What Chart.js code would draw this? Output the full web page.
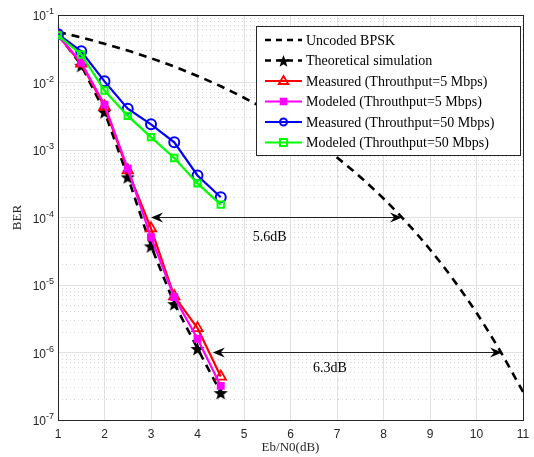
<!DOCTYPE html>
<html><head><meta charset="utf-8">
<script src="https://cdn.jsdelivr.net/npm/chart.js@4/dist/chart.umd.min.js"></script>
<style>html,body{margin:0;padding:0;background:#fff}#wrap{width:534px;height:457px;position:relative}</style>
</head><body><div id="wrap"><canvas id="c" width="534" height="457"></canvas></div>
<script>
// ---------- data ----------
const ebn0 = [1, 1.5, 2, 2.5, 3, 3.5, 4, 4.5];
const ebn0Uncoded = [1, 1.5, 2, 2.5, 3, 3.5, 4, 4.5, 5, 5.5, 6, 6.5, 7, 7.5, 8, 8.5, 9, 9.5, 10, 10.5, 11];
const uncodedBPSK = [0.0563, 0.0464, 0.0375, 0.0297, 0.0229, 0.0172, 0.0125, 0.00879, 0.00595, 0.00386, 0.00239, 0.0014, 7.73e-4, 3.99e-4, 1.91e-4, 8.4e-5, 3.36e-5, 1.21e-5, 3.87e-6, 1.08e-6, 2.61e-7];
const theorySim = [0.052, 0.018, 0.0037, 4.0e-4, 3.8e-5, 5.3e-6, 1.15e-6, 2.55e-7];
const measured5 = [0.05, 0.019, 0.0044, 5.0e-4, 6.9e-5, 6.8e-6, 2.3e-6, 4.4e-7];
const modeled5 = [0.05, 0.0197, 0.0047, 5.3e-4, 5.1e-5, 6.6e-6, 1.6e-6, 3.2e-7];
const measured50 = [0.052, 0.029, 0.0104, 0.0041, 0.0024, 0.0013, 4.2e-4, 2.0e-4];
const modeled50 = [0.05, 0.026, 0.0076, 0.0032, 0.00155, 7.6e-4, 3.2e-4, 1.55e-4];
const seriesLabels = ['Uncoded BPSK', 'Theoretical simulation', 'Measured (Throuthput=5 Mbps)', 'Modeled (Throuthput=5 Mbps)', 'Measured (Throuthput=50 Mbps)', 'Modeled (Throuthput=50 Mbps)'];
const xTicks = [1, 2, 3, 4, 5, 6, 7, 8, 9, 10, 11];
const yMajorTicks = [1e-7, 1e-6, 1e-5, 1e-4, 1e-3, 1e-2, 1e-1];
const yTickExponents = ['-7', '-6', '-5', '-4', '-3', '-2', '-1'];
const yMinorMantissas = [2, 3, 4, 5, 6, 7, 8, 9];
// annotation arrows (gap between curves)
const arrowFrom = [3, 4.33];
const arrowTo = [8.4, 10.55];
const arrowBER = [1e-4, 1e-6];
const gapLabels = ['5.6dB', '6.3dB'];
const gapLabelX = [5.55, 6.85];
const gapLabelBER = [5.0e-5, 5.9e-7];

// ---------- helpers ----------
const minorTickValues = [];
yMajorTicks.slice(0, -1).forEach(d => yMinorMantissas.forEach(m => minorTickValues.push(d * m)));

function makeStar(r) {
  const c = document.createElement('canvas');
  const s = Math.ceil(r * 2 + 2);
  c.width = s; c.height = s;
  const g = c.getContext('2d');
  g.fillStyle = '#000';
  g.beginPath();
  for (let i = 0; i < 10; i++) {
    const rad = i % 2 === 0 ? r : r * 0.42;
    const a = -Math.PI / 2 + i * Math.PI / 5;
    const px = s / 2 + rad * Math.cos(a), py = s / 2 + 1 + rad * Math.sin(a);
    if (i === 0) g.moveTo(px, py); else g.lineTo(px, py);
  }
  g.closePath(); g.fill();
  return c;
}
const starImg = makeStar(7.5);
const starSmall = makeStar(6.5);

const pts = (xs, ys) => xs.map((x, i) => ({x: x, y: ys[i]}));
const SANS = '"Liberation Sans", Arial, "DejaVu Sans", sans-serif';
const SERIF = '"Liberation Serif", "Times New Roman", serif';

// ---------- plugins ----------
const yLabelPlugin = {
  id: 'powerLabels',
  afterDraw(chart) {
    const {ctx, scales: {y}} = chart;
    const right = y.right - 4;
    ctx.save();
    ctx.fillStyle = '#262626';
    ctx.textBaseline = 'alphabetic';
    ctx.textAlign = 'left';
    y.ticks.forEach((t, i) => {
      const py = y.getPixelForValue(t.value);
      ctx.font = '9px ' + SANS;
      const e = yTickExponents[i];
      const we = ctx.measureText(e).width;
      ctx.font = '12px ' + SANS;
      const wb = ctx.measureText('10').width;
      const x0 = right - we - wb;
      ctx.fillText('10', x0, py + 5);
      ctx.font = '9px ' + SANS;
      ctx.fillText(e, x0 + wb, py - 1);
    });
    ctx.restore();
  }
};

const arrowPlugin = {
  id: 'gapArrows',
  afterDatasetsDraw(chart) {
    const {ctx, scales: {x, y}} = chart;
    ctx.save();
    for (let i = 0; i < arrowFrom.length; i++) {
      const x1 = x.getPixelForValue(arrowFrom[i]);
      const x2 = x.getPixelForValue(arrowTo[i]);
      const py = y.getPixelForValue(arrowBER[i]);
      ctx.strokeStyle = '#222'; ctx.lineWidth = 1.2; ctx.setLineDash([]);
      ctx.beginPath(); ctx.moveTo(x1 + 4, py); ctx.lineTo(x2 - 4, py); ctx.stroke();
      ctx.fillStyle = '#000';
      [[x1, 1], [x2, -1]].forEach(([tx, dir]) => {
        ctx.beginPath();
        ctx.moveTo(tx, py);
        ctx.lineTo(tx + dir * 12, py - 5);
        ctx.lineTo(tx + dir * 8, py);
        ctx.lineTo(tx + dir * 12, py + 5);
        ctx.closePath(); ctx.fill();
      });
      ctx.font = '14px ' + SERIF;
      ctx.textAlign = 'center'; ctx.textBaseline = 'middle';
      ctx.fillText(gapLabels[i], x.getPixelForValue(gapLabelX[i]), y.getPixelForValue(gapLabelBER[i]));
    }
    ctx.restore();
  }
};

function drawMarker(ctx, ds, cx, cy) {
  const style = ds.pointStyle;
  const r = ds.legendRadius;
  ctx.save();
  ctx.setLineDash([]);
  ctx.lineWidth = ds.pointBorderWidth || 1.5;
  ctx.strokeStyle = ds.borderColor;
  ctx.fillStyle = ds.pointBackgroundColor;
  if (style instanceof HTMLCanvasElement) {
    ctx.drawImage(starSmall, cx - starSmall.width / 2, cy - starSmall.height / 2);
  } else if (style === 'triangle') {
    ctx.beginPath();
    ctx.moveTo(cx, cy - r); ctx.lineTo(cx + r * 0.95, cy + r * 0.6); ctx.lineTo(cx - r * 0.95, cy + r * 0.6);
    ctx.closePath(); ctx.fill(); ctx.stroke();
  } else if (style === 'rect') {
    ctx.beginPath(); ctx.rect(cx - r, cy - r, 2 * r, 2 * r); ctx.fill(); ctx.stroke();
  } else if (style === 'circle') {
    ctx.beginPath(); ctx.arc(cx, cy, r, 0, Math.PI * 2); ctx.fill(); ctx.stroke();
  }
  ctx.restore();
}

const legendPlugin = {
  id: 'boxLegend',
  afterDraw(chart) {
    const {ctx, chartArea} = chart;
    const left = chartArea.right - 267, top = chartArea.top + 11, w = 264, h = 129;
    ctx.save();
    ctx.fillStyle = '#fff';
    ctx.fillRect(left, top, w, h);
    ctx.strokeStyle = '#262626'; ctx.lineWidth = 1;
    ctx.strokeRect(left + 0.5, top + 0.5, w, h);
    ctx.font = '14px ' + SERIF;
    ctx.textBaseline = 'middle'; ctx.textAlign = 'left';
    chart.data.datasets.forEach((ds, i) => {
      const ry = top + 14 + i * 20.5;
      ctx.strokeStyle = ds.borderColor;
      ctx.lineWidth = ds.borderWidth;
      ctx.setLineDash(ds.borderDash && ds.borderDash.length ? [6, 5] : []);
      ctx.beginPath(); ctx.moveTo(left + 9, ry); ctx.lineTo(left + 46, ry); ctx.stroke();
      ctx.setLineDash([]);
      if (ds.pointRadius > 0) drawMarker(ctx, ds, left + 27.5, ry);
      ctx.fillStyle = '#000';
      ctx.fillText(ds.label, left + 50, ry + 1);
    });
    ctx.restore();
  }
};

// ---------- chart ----------
const tickFont = {family: SANS, size: 12};
const titleFont = {family: SERIF, size: 13};

new Chart(document.getElementById('c'), {
  type: 'line',
  data: {
    datasets: [
      {label: seriesLabels[0], data: pts(ebn0Uncoded, uncodedBPSK), borderColor: '#000', borderWidth: 2.6, borderDash: [8, 6], pointRadius: 0, cubicInterpolationMode: 'monotone', order: 6},
      {label: seriesLabels[1], data: pts(ebn0, theorySim), borderColor: '#000', borderWidth: 2.6, borderDash: [8, 6], pointStyle: starImg, pointRadius: 7, pointBackgroundColor: '#000', legendRadius: 6, order: 5},
      {label: seriesLabels[2], data: pts(ebn0, measured5), borderColor: '#ff0000', borderWidth: 2.2, pointStyle: 'triangle', pointRadius: 6, pointBorderWidth: 1.8, pointBackgroundColor: 'rgba(255,255,255,0)', legendRadius: 5, order: 4},
      {label: seriesLabels[3], data: pts(ebn0, modeled5), borderColor: '#ff00ff', borderWidth: 2.2, pointStyle: 'rect', pointRadius: 4.5, pointBorderWidth: 1.5, pointBackgroundColor: '#ff00ff', legendRadius: 3, order: 3},
      {label: seriesLabels[4], data: pts(ebn0, measured50), borderColor: '#0000ff', borderWidth: 2.2, pointStyle: 'circle', pointRadius: 5, pointBorderWidth: 2, pointBackgroundColor: 'rgba(255,255,255,0)', legendRadius: 3.5, order: 2},
      {label: seriesLabels[5], data: pts(ebn0, modeled50), borderColor: '#00ff00', borderWidth: 2.2, pointStyle: 'rect', pointRadius: 4.5, pointBorderWidth: 2, pointBackgroundColor: 'rgba(255,255,255,0)', legendRadius: 3.5, order: 1}
    ]
  },
  options: {
    responsive: false,
    animation: false,
    devicePixelRatio: 1,
    layout: {padding: {top: 15, right: 11, left: 0, bottom: 0}},
    plugins: {legend: {display: false}, tooltip: {enabled: false}},
    elements: {line: {tension: 0}},
    scales: {
      x: {
        type: 'linear', min: 1, max: 11,
        afterBuildTicks: s => { s.ticks = xTicks.map(v => ({value: v})); },
        afterFit: s => { s.height = 37; s.paddingRight = 0; s.paddingLeft = 0; },
        ticks: {font: tickFont, color: '#262626', padding: 7, autoSkip: false, maxRotation: 0},
        grid: {color: '#e2e2e2', lineWidth: 1, drawTicks: false},
        border: {color: '#262626', width: 1},
        title: {display: true, text: 'Eb/N0(dB)', font: titleFont, color: '#262626', padding: {top: 0, bottom: 2}}
      },
      x2: {
        type: 'linear', min: 1, max: 11, position: 'top',
        afterFit: s => { s.height = 0; s.paddingRight = 0; s.paddingLeft = 0; },
        ticks: {display: false}, grid: {display: false, drawTicks: false},
        border: {color: '#262626', width: 1}
      },
      yMinor: {
        type: 'logarithmic', min: 1e-7, max: 1e-1, position: 'left',
        afterBuildTicks: s => { s.ticks = minorTickValues.map(v => ({value: v})); },
        afterFit: s => { s.width = 0; },
        ticks: {display: false},
        grid: {color: '#d6d6d6', lineWidth: 1, drawTicks: false, borderDash: [1, 3]},
        border: {display: false, dash: [1, 3]}
      },
      y: {
        type: 'logarithmic', min: 1e-7, max: 1e-1, position: 'left',
        afterBuildTicks: s => { s.ticks = yMajorTicks.map(v => ({value: v, major: true})); },
        afterFit: s => { s.width = 58; },
        ticks: {display: false},
        grid: {color: '#e2e2e2', lineWidth: 1, drawTicks: false},
        border: {color: '#262626', width: 1},
        title: {display: true, text: 'BER', font: titleFont, color: '#262626', padding: {top: 10, bottom: 0}}
      },
      y2: {
        type: 'logarithmic', min: 1e-7, max: 1e-1, position: 'right',
        afterFit: s => { s.width = 0; },
        ticks: {display: false}, grid: {display: false, drawTicks: false},
        border: {color: '#262626', width: 1}
      }
    }
  },
  plugins: [arrowPlugin, legendPlugin, yLabelPlugin]
});
</script></body></html>
